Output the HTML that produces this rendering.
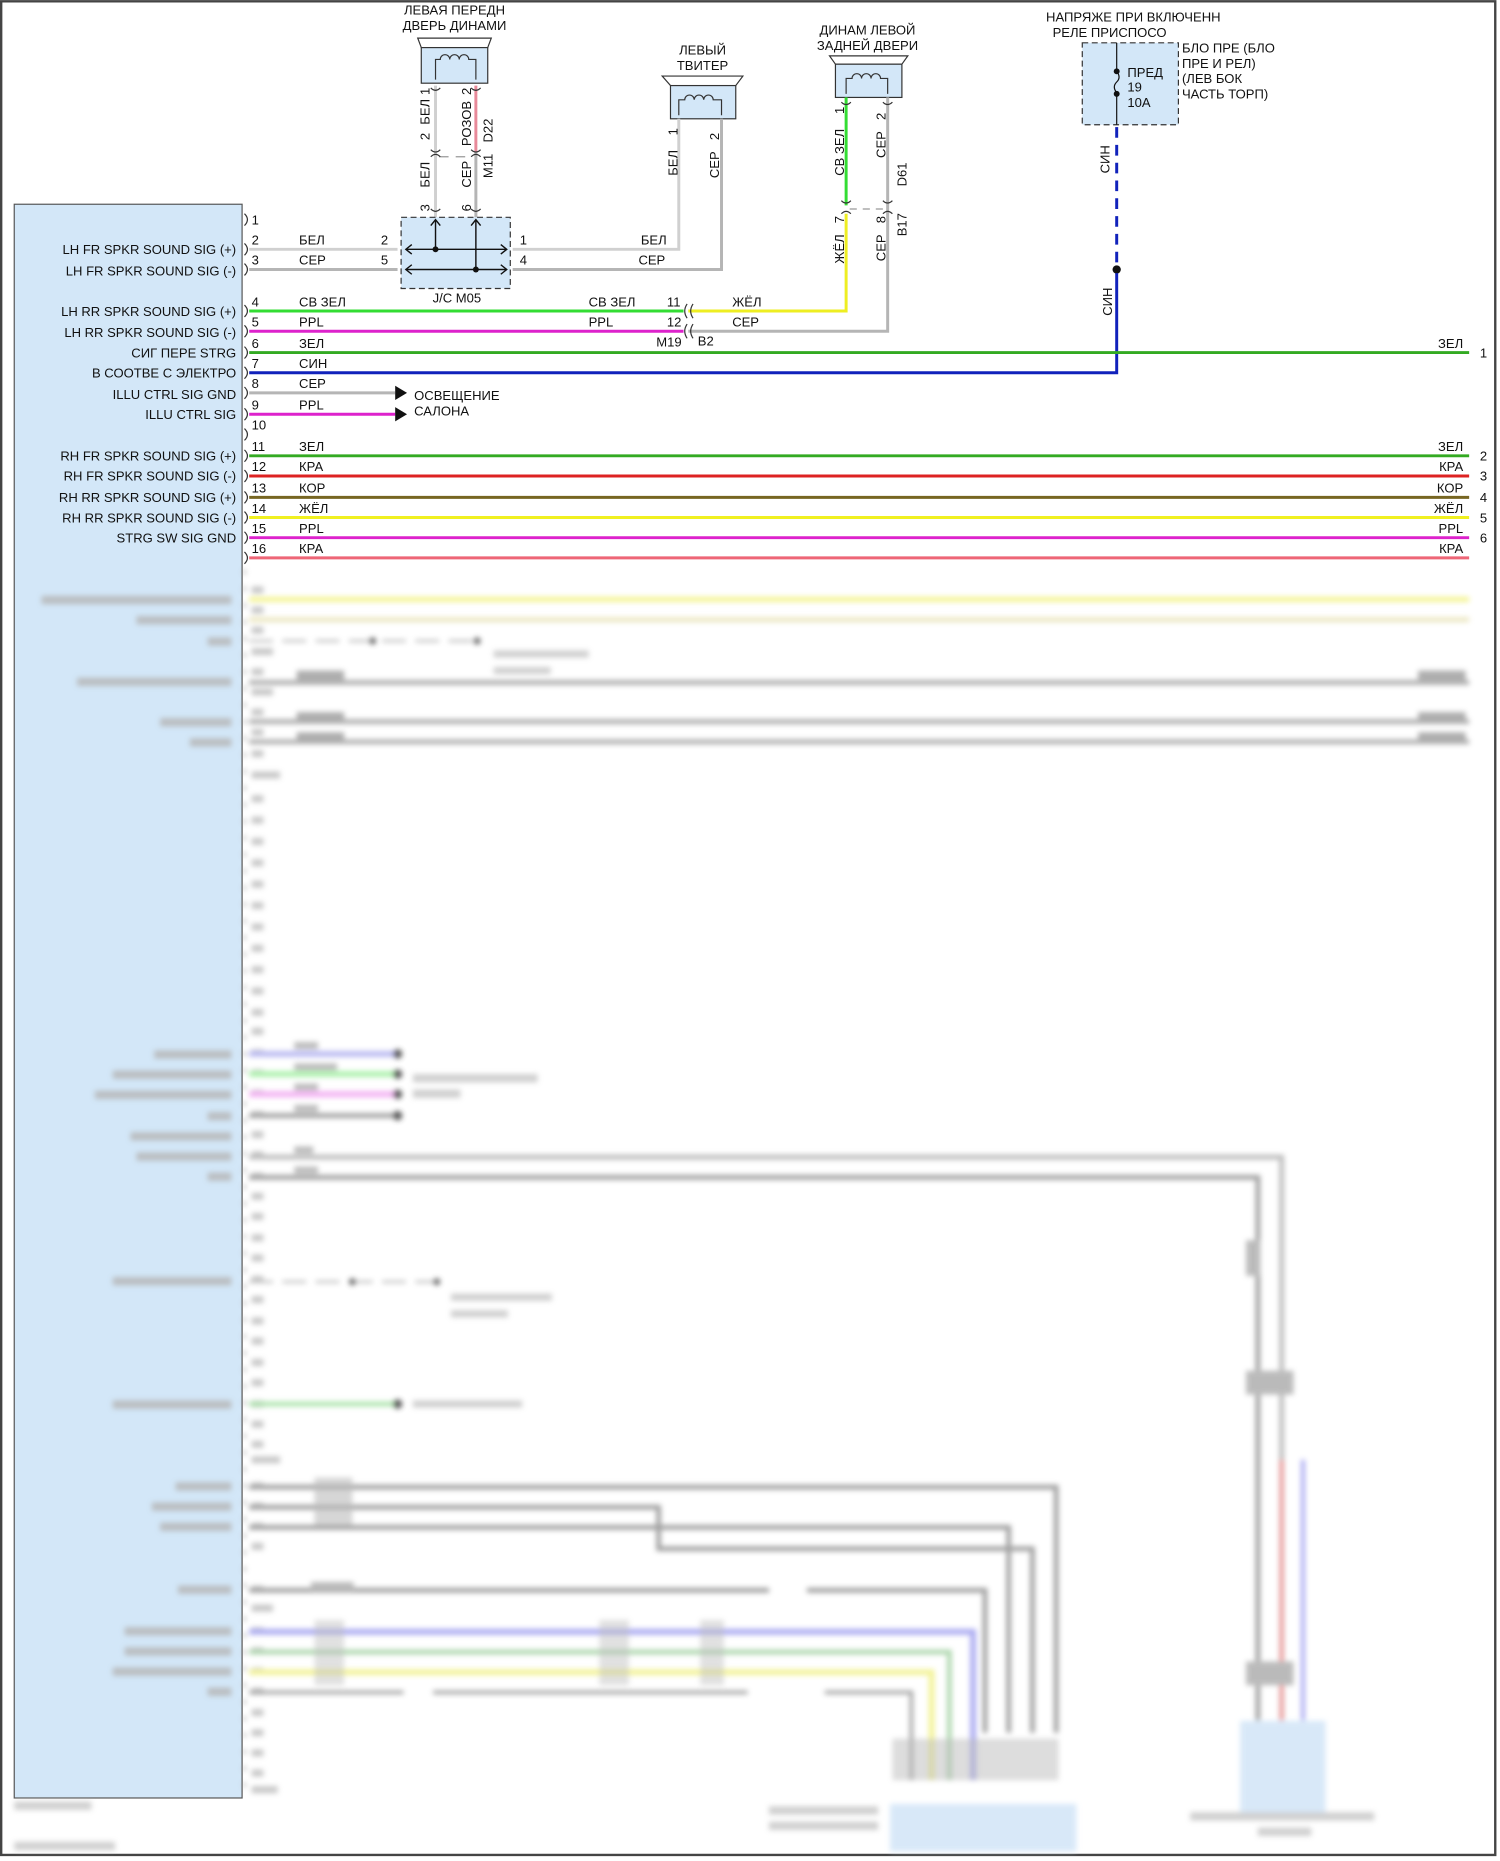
<!DOCTYPE html>
<html><head><meta charset="utf-8"><style>
html,body{margin:0;padding:0;background:#fff;}
svg{display:block;}
text{font-family:"Liberation Sans","DejaVu Sans",sans-serif;font-size:11px;fill:#111;}
</style></head><body>
<svg width="1500" height="1861" viewBox="0 0 1264 1568" xmlns="http://www.w3.org/2000/svg">
<defs>
<filter id="bl" x="-5%" y="-5%" width="110%" height="110%"><feGaussianBlur stdDeviation="2.2"/></filter>
</defs>
<rect x="0" y="0" width="1264" height="1568" fill="#fff"/>
<rect x="1" y="1" width="1259" height="1562" fill="none" stroke="#444" stroke-width="2"/>

<rect x="12" y="172" width="192" height="1343" fill="#d3e7f8" stroke="#555" stroke-width="1"/>

<g fill="none" stroke="#333" stroke-width="1">
<polygon points="352,32 414,32 411,40 355,40" fill="#fff"/>
<rect x="355" y="40" width="56" height="30" fill="#d3e7f8"/>
<path d="M367,67 V50 h4 a4,4 0 0 1 8,0 a4,4 0 0 1 8,0 a4,4 0 0 1 8,0 h6 V67"/>
<polygon points="558,64 626,64 620,72 565,72" fill="#fff"/>
<rect x="565" y="72" width="55" height="28" fill="#d3e7f8"/>
<path d="M572,97 V84 h5 a4,4 0 0 1 8,0 a4,4 0 0 1 8,0 a4,4 0 0 1 8,0 h7 V97"/>
<polygon points="699,47 765,47 760,54 704,54" fill="#fff"/>
<rect x="704" y="54" width="56" height="28" fill="#d3e7f8"/>
<path d="M713,79 V66 h5 a4,4 0 0 1 8,0 a4,4 0 0 1 8,0 a4,4 0 0 1 8,0 h6 V79"/>
</g>
<text x="383" y="12" text-anchor="middle">ЛЕВАЯ ПЕРЕДН</text>
<text x="383" y="25" text-anchor="middle">ДВЕРЬ ДИНАМИ</text>
<text x="592" y="46" text-anchor="middle">ЛЕВЫЙ</text>
<text x="592" y="59" text-anchor="middle">ТВИТЕР</text>
<text x="731" y="29" text-anchor="middle">ДИНАМ ЛЕВОЙ</text>
<text x="731" y="42" text-anchor="middle">ЗАДНЕЙ ДВЕРИ</text>

<line x1="367" y1="72" x2="367" y2="183" stroke="#d0d0d0" stroke-width="2.5"/>
<line x1="401" y1="72" x2="401" y2="128" stroke="#e88a9a" stroke-width="2.5"/>
<line x1="401" y1="128" x2="401" y2="183" stroke="#b5b5b5" stroke-width="2.5"/>
<line x1="370" y1="132" x2="398" y2="132" stroke="#999" stroke-dasharray="8,6"/>
<g fill="none" stroke="#333">
<path d="M363,74 q4,4 8,0 M397,74 q4,4 8,0 M363,126 q4,4 8,0 M397,126 q4,4 8,0 M363,132 q4,-4 8,0 M397,132 q4,-4 8,0 M363,176 q4,4 8,0 M397,176 q4,4 8,0"/>
</g>
<g font-size="10">
<text transform="translate(362,105) rotate(-90)">БЕЛ</text>
<text transform="translate(362,80) rotate(-90)">1</text>
<text transform="translate(362,118) rotate(-90)">2</text>
<text transform="translate(362,158) rotate(-90)">БЕЛ</text>
<text transform="translate(362,178) rotate(-90)">3</text>
<text transform="translate(397,80) rotate(-90)">2</text>
<text transform="translate(397,123) rotate(-90)">РОЗОВ</text>
<text transform="translate(415,120) rotate(-90)">D22</text>
<text transform="translate(397,158) rotate(-90)">СЕР</text>
<text transform="translate(415,150) rotate(-90)">M11</text>
<text transform="translate(397,178) rotate(-90)">6</text>
</g>

<rect x="338" y="183" width="92" height="60" fill="#d3e7f8" stroke="#333" stroke-dasharray="5,3"/>
<g stroke="#111" stroke-width="1.2" fill="none">
<line x1="342" y1="210" x2="427" y2="210"/><line x1="342" y1="227" x2="427" y2="227"/>
<line x1="367" y1="186" x2="367" y2="210"/><line x1="401" y1="186" x2="401" y2="227"/>
<path d="M347,206 l-5,4 5,4 M422,206 l5,4 -5,4 M347,223 l-5,4 5,4 M422,223 l5,4 -5,4 M363,190 l4,-5 4,5 M397,190 l4,-5 4,5"/>
</g>
<circle cx="367" cy="210" r="2.5" fill="#111"/><circle cx="401" cy="227" r="2.5" fill="#111"/>
<text x="385" y="255" text-anchor="middle">J/C M05</text>
<text x="321" y="206">2</text><text x="321" y="223">5</text>
<text x="438" y="206">1</text><text x="438" y="223">4</text>

<polyline points="432,210 572,210 572,100" fill="none" stroke="#d0d0d0" stroke-width="2.5"/>
<polyline points="432,227 608,227 608,100" fill="none" stroke="#b5b5b5" stroke-width="2.5"/>
<text transform="translate(571,148) rotate(-90)" font-size="10">БЕЛ</text>
<text transform="translate(571,114) rotate(-90)" font-size="10">1</text>
<text transform="translate(606,150) rotate(-90)" font-size="10">СЕР</text>
<text transform="translate(606,118) rotate(-90)" font-size="10">2</text>
<text x="540" y="206">БЕЛ</text><text x="538" y="223">СЕР</text>

<line x1="713" y1="82" x2="713" y2="173" stroke="#33dd33" stroke-width="2.5"/>
<polyline points="713,180 713,262 580,262" fill="none" stroke="#eeee22" stroke-width="2.5"/>
<polyline points="748,82 748,279 580,279" fill="none" stroke="#b5b5b5" stroke-width="2.5"/>
<line x1="716" y1="176" x2="745" y2="176" stroke="#999" stroke-dasharray="6,5"/>
<g fill="none" stroke="#333"><path d="M709,86 q4,4 8,0 M744,86 q4,4 8,0 M709,169 q4,4 8,0 M744,169 q4,4 8,0 M709,180 q4,-4 8,0 M744,180 q4,-4 8,0"/></g>
<g font-size="10">
<text transform="translate(711,96) rotate(-90)">1</text>
<text transform="translate(711,148) rotate(-90)">СВ ЗЕЛ</text>
<text transform="translate(746,101) rotate(-90)">2</text>
<text transform="translate(746,133) rotate(-90)">СЕР</text>
<text transform="translate(764,157) rotate(-90)">D61</text>
<text transform="translate(711,188) rotate(-90)">7</text>
<text transform="translate(711,222) rotate(-90)">ЖЁЛ</text>
<text transform="translate(746,188) rotate(-90)">8</text>
<text transform="translate(746,220) rotate(-90)">СЕР</text>
<text transform="translate(764,199) rotate(-90)">B17</text>
</g>
<text x="617" y="258">ЖЁЛ</text><text x="617" y="275">СЕР</text>
<text x="562" y="258">11</text><text x="562" y="275">12</text>
<text x="553" y="292">M19</text><text x="588" y="291">B2</text>
<g fill="none" stroke="#333"><path d="M579,256 q-4,6 0,12 M584,256 q-4,6 0,12 M579,273 q-4,6 0,12 M584,273 q-4,6 0,12"/></g>

<text x="955" y="18" text-anchor="middle">НАПРЯЖЕ ПРИ ВКЛЮЧЕНН</text>
<text x="935" y="31" text-anchor="middle">РЕЛЕ ПРИСПОСО</text>
<rect x="912" y="36" width="81" height="69" fill="#d3e7f8" stroke="#333" stroke-dasharray="5,3"/>
<line x1="941" y1="36" x2="941" y2="58" stroke="#111"/><line x1="941" y1="79" x2="941" y2="105" stroke="#111"/>
<path d="M941,60 q4,5 0,9 q-4,4 0,9" fill="none" stroke="#111"/>
<circle cx="941" cy="60" r="2.5" fill="#111"/><circle cx="941" cy="79" r="2.5" fill="#111"/>
<text x="950" y="65">ПРЕД</text><text x="950" y="77">19</text><text x="950" y="90">10A</text>
<text x="996" y="44">БЛО ПРЕ (БЛО</text><text x="996" y="57">ПРЕ И РЕЛ)</text><text x="996" y="70">(ЛЕВ БОК</text><text x="996" y="83">ЧАСТЬ ТОРП)</text>
<line x1="941" y1="107" x2="941" y2="225" stroke="#1122bb" stroke-width="2.5" stroke-dasharray="9,6"/>
<circle cx="941" cy="227" r="3.5" fill="#111"/>
<polyline points="941,230 941,314 210,314" fill="none" stroke="#1122bb" stroke-width="2.5"/>
<text transform="translate(935,146) rotate(-90)" font-size="10">СИН</text>
<text transform="translate(937,266) rotate(-90)" font-size="10">СИН</text>

<line x1="210" y1="210" x2="335" y2="210" stroke="#d0d0d0" stroke-width="2.5"/>
<line x1="210" y1="227" x2="335" y2="227" stroke="#b5b5b5" stroke-width="2.5"/>
<line x1="210" y1="262" x2="576" y2="262" stroke="#33dd33" stroke-width="2.5"/>
<line x1="210" y1="279" x2="576" y2="279" stroke="#dd22cc" stroke-width="2.5"/>
<line x1="210" y1="297" x2="1238" y2="297" stroke="#33aa22" stroke-width="2.5"/>
<line x1="210" y1="331" x2="333" y2="331" stroke="#b5b5b5" stroke-width="2.5"/>
<line x1="210" y1="349" x2="333" y2="349" stroke="#dd22cc" stroke-width="2.5"/>
<polygon points="333,325 343,331 333,337" fill="#111"/><polygon points="333,343 343,349 333,355" fill="#111"/>
<text x="349" y="337">ОСВЕЩЕНИЕ</text><text x="349" y="350">САЛОНА</text>
<line x1="210" y1="384" x2="1238" y2="384" stroke="#33aa22" stroke-width="2.5"/>
<line x1="210" y1="401" x2="1238" y2="401" stroke="#dd2222" stroke-width="2.5"/>
<line x1="210" y1="419" x2="1238" y2="419" stroke="#776622" stroke-width="2.5"/>
<line x1="210" y1="436" x2="1238" y2="436" stroke="#f0f020" stroke-width="2.5"/>
<line x1="210" y1="453" x2="1238" y2="453" stroke="#dd22cc" stroke-width="2.5"/>
<line x1="210" y1="470" x2="1238" y2="470" stroke="#ee6677" stroke-width="2.5"/>

<g fill="none" stroke="#333">
<path d="M206,180 q5,5 0,10 M206,205 q5,5 0,10 M206,222 q5,5 0,10 M206,257 q5,5 0,10 M206,274 q5,5 0,10 M206,292 q5,5 0,10 M206,309 q5,5 0,10 M206,326 q5,5 0,10 M206,344 q5,5 0,10 M206,361 q5,5 0,10 M206,379 q5,5 0,10 M206,396 q5,5 0,10 M206,414 q5,5 0,10 M206,431 q5,5 0,10 M206,448 q5,5 0,10 M206,465 q5,5 0,10"/>
</g>
<g font-size="10">
<text x="212" y="189">1</text><text x="212" y="206">2</text><text x="212" y="223">3</text><text x="212" y="258">4</text><text x="212" y="275">5</text><text x="212" y="293">6</text><text x="212" y="310">7</text><text x="212" y="327">8</text><text x="212" y="345">9</text><text x="212" y="362">10</text><text x="212" y="380">11</text><text x="212" y="397">12</text><text x="212" y="415">13</text><text x="212" y="432">14</text><text x="212" y="449">15</text><text x="212" y="466">16</text>
</g>
<g>
<text x="252" y="206">БЕЛ</text><text x="252" y="223">СЕР</text><text x="252" y="258">СВ ЗЕЛ</text><text x="496" y="258">СВ ЗЕЛ</text>
<text x="252" y="275">PPL</text><text x="496" y="275">PPL</text><text x="252" y="293">ЗЕЛ</text><text x="252" y="310">СИН</text>
<text x="252" y="327">СЕР</text><text x="252" y="345">PPL</text><text x="252" y="380">ЗЕЛ</text><text x="252" y="397">КРА</text>
<text x="252" y="415">КОР</text><text x="252" y="432">ЖЁЛ</text><text x="252" y="449">PPL</text><text x="252" y="466">КРА</text>
</g>
<g text-anchor="end">
<text x="1233" y="293">ЗЕЛ</text><text x="1233" y="380">ЗЕЛ</text><text x="1233" y="397">КРА</text><text x="1233" y="415">КОР</text><text x="1233" y="432">ЖЁЛ</text><text x="1233" y="449">PPL</text><text x="1233" y="466">КРА</text>
</g>
<g font-size="10"><text x="1247" y="301">1</text><text x="1247" y="388">2</text><text x="1247" y="405">3</text><text x="1247" y="423">4</text><text x="1247" y="440">5</text><text x="1247" y="457">6</text></g>
<g text-anchor="end">
<text x="199" y="214">LH FR SPKR SOUND SIG (+)</text>
<text x="199" y="232">LH FR SPKR SOUND SIG (-)</text>
<text x="199" y="266">LH RR SPKR SOUND SIG (+)</text>
<text x="199" y="284">LH RR SPKR SOUND SIG (-)</text>
<text x="199" y="301">СИГ ПЕРЕ STRG</text>
<text x="199" y="318">В СООТВЕ С ЭЛЕКТРО</text>
<text x="199" y="336">ILLU CTRL SIG GND</text>
<text x="199" y="353">ILLU CTRL SIG</text>
<text x="199" y="388">RH FR SPKR SOUND SIG (+)</text>
<text x="199" y="405">RH FR SPKR SOUND SIG (-)</text>
<text x="199" y="423">RH RR SPKR SOUND SIG (+)</text>
<text x="199" y="440">RH RR SPKR SOUND SIG (-)</text>
<text x="199" y="457">STRG SW SIG GND</text>
</g>

<g filter="url(#bl)" opacity="0.8">
<line x1="206" y1="480" x2="206" y2="1510" stroke="#999" stroke-width="2" stroke-dasharray="4,10"/>
<g fill="#bbb">
<rect x="212" y="494" width="10" height="6"/><rect x="212" y="511" width="10" height="6"/><rect x="212" y="528" width="10" height="6"/><rect x="212" y="546" width="18" height="6"/>
<rect x="212" y="563" width="10" height="6"/><rect x="212" y="580" width="18" height="6"/><rect x="212" y="597" width="10" height="6"/><rect x="212" y="614" width="10" height="6"/>
<rect x="212" y="632" width="10" height="6"/><rect x="212" y="650" width="24" height="6"/>
<rect x="212" y="670" width="10" height="6"/><rect x="212" y="688" width="10" height="6"/><rect x="212" y="706" width="10" height="6"/><rect x="212" y="724" width="10" height="6"/><rect x="212" y="742" width="10" height="6"/><rect x="212" y="760" width="10" height="6"/><rect x="212" y="778" width="10" height="6"/><rect x="212" y="796" width="10" height="6"/><rect x="212" y="814" width="10" height="6"/><rect x="212" y="832" width="10" height="6"/><rect x="212" y="850" width="10" height="6"/><rect x="212" y="866" width="10" height="6"/>
<rect x="212" y="884" width="10" height="6"/><rect x="212" y="901" width="10" height="6"/><rect x="212" y="918" width="10" height="6"/><rect x="212" y="936" width="10" height="6"/><rect x="212" y="953" width="10" height="6"/><rect x="212" y="970" width="10" height="6"/><rect x="212" y="988" width="10" height="6"/>
<rect x="212" y="1005" width="10" height="6"/><rect x="212" y="1022" width="10" height="6"/><rect x="212" y="1040" width="10" height="6"/><rect x="212" y="1057" width="10" height="6"/><rect x="212" y="1075" width="10" height="6"/><rect x="212" y="1092" width="10" height="6"/><rect x="212" y="1110" width="10" height="6"/><rect x="212" y="1127" width="10" height="6"/><rect x="212" y="1145" width="10" height="6"/><rect x="212" y="1162" width="10" height="6"/><rect x="212" y="1180" width="10" height="6"/><rect x="212" y="1197" width="10" height="6"/><rect x="212" y="1214" width="10" height="6"/><rect x="212" y="1227" width="24" height="6"/>
<rect x="212" y="1249" width="10" height="6"/><rect x="212" y="1266" width="10" height="6"/><rect x="212" y="1283" width="10" height="6"/><rect x="212" y="1300" width="10" height="6"/><rect x="212" y="1336" width="10" height="6"/><rect x="212" y="1352" width="18" height="6"/>
<rect x="212" y="1371" width="10" height="6"/><rect x="212" y="1388" width="10" height="6"/><rect x="212" y="1405" width="10" height="6"/><rect x="212" y="1422" width="10" height="6"/><rect x="212" y="1440" width="10" height="6"/><rect x="212" y="1457" width="10" height="6"/><rect x="212" y="1474" width="10" height="6"/><rect x="212" y="1491" width="10" height="6"/><rect x="212" y="1505" width="22" height="6"/>
</g>
<line x1="210" y1="505" x2="1238" y2="505" stroke="#f0f070" stroke-width="4"/>
<line x1="210" y1="522" x2="1238" y2="522" stroke="#e6e0b0" stroke-width="4"/>
<line x1="210" y1="540" x2="400" y2="540" stroke="#aaa" stroke-width="2" stroke-dasharray="20,8"/>
<circle cx="314" cy="540" r="3" fill="#444"/><circle cx="402" cy="540" r="3" fill="#444"/>
<rect x="416" y="548" width="80" height="6" fill="#c4c4c4"/><rect x="416" y="562" width="48" height="6" fill="#c4c4c4"/>
<line x1="210" y1="575" x2="1238" y2="575" stroke="#999" stroke-width="4"/>
<line x1="210" y1="608" x2="1238" y2="608" stroke="#999" stroke-width="4"/>
<line x1="210" y1="625" x2="1238" y2="625" stroke="#999" stroke-width="4"/>
<rect x="250" y="565" width="40" height="8" fill="#999"/><rect x="250" y="600" width="40" height="8" fill="#999"/><rect x="250" y="617" width="40" height="8" fill="#999"/>
<rect x="1195" y="565" width="40" height="8" fill="#999"/><rect x="1195" y="600" width="40" height="8" fill="#999"/><rect x="1195" y="617" width="40" height="8" fill="#999"/>
<line x1="210" y1="888" x2="335" y2="888" stroke="#aaaaee" stroke-width="5"/>
<line x1="210" y1="905" x2="335" y2="905" stroke="#99ee99" stroke-width="5"/>
<line x1="210" y1="922" x2="335" y2="922" stroke="#f0a0f0" stroke-width="5"/>
<line x1="210" y1="940" x2="335" y2="940" stroke="#888" stroke-width="4"/>
<circle cx="335" cy="888" r="4" fill="#333"/><circle cx="335" cy="905" r="4" fill="#333"/><circle cx="335" cy="922" r="4" fill="#333"/><circle cx="335" cy="940" r="4" fill="#333"/>
<rect x="248" y="878" width="20" height="6" fill="#aaa"/><rect x="248" y="896" width="36" height="6" fill="#aaa"/><rect x="248" y="913" width="20" height="6" fill="#aaa"/><rect x="248" y="931" width="20" height="6" fill="#aaa"/><rect x="248" y="966" width="16" height="6" fill="#aaa"/><rect x="248" y="983" width="20" height="6" fill="#aaa"/>
<rect x="348" y="905" width="105" height="7" fill="#c4c4c4"/><rect x="348" y="918" width="40" height="7" fill="#c4c4c4"/>
<polyline points="210,975 1080,975 1080,1450" fill="none" stroke="#aaa" stroke-width="4"/>
<polyline points="210,992 1060,992 1060,1450" fill="none" stroke="#888" stroke-width="4"/>
<line x1="210" y1="1080" x2="370" y2="1080" stroke="#aaa" stroke-width="2" stroke-dasharray="20,8"/>
<circle cx="297" cy="1080" r="3" fill="#444"/><circle cx="368" cy="1080" r="3" fill="#444"/>
<rect x="380" y="1090" width="85" height="6" fill="#c4c4c4"/><rect x="380" y="1104" width="48" height="6" fill="#c4c4c4"/>
<line x1="210" y1="1183" x2="335" y2="1183" stroke="#99dd99" stroke-width="4"/><circle cx="335" cy="1183" r="4" fill="#333"/>
<rect x="348" y="1180" width="92" height="6" fill="#c4c4c4"/>
<polyline points="210,1253 890,1253 890,1460" fill="none" stroke="#888" stroke-width="4"/>
<polyline points="210,1270 555,1270 555,1305 870,1305 870,1460" fill="none" stroke="#888" stroke-width="4"/>
<polyline points="210,1287 850,1287 850,1460" fill="none" stroke="#888" stroke-width="4"/>
<polyline points="210,1340 648,1340" fill="none" stroke="#888" stroke-width="4"/>
<polyline points="680,1340 830,1340 830,1460" fill="none" stroke="#888" stroke-width="4"/>
<polyline points="210,1375 820,1375 820,1500" fill="none" stroke="#9999ee" stroke-width="5"/>
<polyline points="210,1392 800,1392 800,1500" fill="none" stroke="#99cc99" stroke-width="4"/>
<polyline points="210,1409 785,1409 785,1500" fill="none" stroke="#f0f080" stroke-width="5"/>
<polyline points="210,1426 340,1426" fill="none" stroke="#888" stroke-width="3"/>
<polyline points="365,1426 630,1426" fill="none" stroke="#888" stroke-width="3"/>
<polyline points="695,1426 768,1426 768,1500" fill="none" stroke="#888" stroke-width="3"/>
<rect x="265" y="1245" width="32" height="40" fill="#aaa" opacity="0.6"/><rect x="262" y="1333" width="36" height="7" fill="#aaa"/>
<rect x="265" y="1365" width="25" height="55" fill="#aaa" opacity="0.45"/>
<rect x="505" y="1365" width="25" height="55" fill="#aaa" opacity="0.45"/>
<rect x="590" y="1365" width="20" height="55" fill="#aaa" opacity="0.45"/>
<rect x="752" y="1465" width="140" height="35" fill="#aaa" opacity="0.5"/>
<rect x="750" y="1520" width="157" height="40" fill="#cfe3f7"/>
<rect x="648" y="1522" width="92" height="7" fill="#c4c4c4"/><rect x="648" y="1535" width="92" height="7" fill="#c4c4c4"/>
<line x1="1080" y1="1230" x2="1080" y2="1450" stroke="#ee7777" stroke-width="3"/>
<line x1="1098" y1="1230" x2="1098" y2="1450" stroke="#8888ee" stroke-width="3"/>
<rect x="1050" y="1045" width="12" height="30" fill="#aaa"/><rect x="1050" y="1155" width="40" height="20" fill="#aaa"/><rect x="1050" y="1400" width="40" height="20" fill="#aaa"/>
<rect x="1045" y="1450" width="72" height="80" fill="#cfe3f7"/>
<rect x="1003" y="1527" width="155" height="7" fill="#c4c4c4"/><rect x="1060" y="1540" width="45" height="7" fill="#c4c4c4"/>
<rect x="12" y="1518" width="65" height="7" fill="#c4c4c4"/><rect x="12" y="1552" width="85" height="7" fill="#c4c4c4"/>
<g fill="#b4b4b4">
<rect x="35" y="502" width="160" height="7"/><rect x="115" y="519" width="80" height="7"/><rect x="175" y="537" width="20" height="7"/>
<rect x="65" y="571" width="130" height="7"/><rect x="135" y="605" width="60" height="7"/><rect x="160" y="622" width="35" height="7"/>
<rect x="130" y="885" width="65" height="7"/><rect x="95" y="902" width="100" height="7"/><rect x="80" y="919" width="115" height="7"/><rect x="175" y="937" width="20" height="7"/>
<rect x="110" y="954" width="85" height="7"/><rect x="115" y="971" width="80" height="7"/><rect x="175" y="988" width="20" height="7"/>
<rect x="95" y="1076" width="100" height="7"/><rect x="95" y="1180" width="100" height="7"/>
<rect x="148" y="1249" width="47" height="7"/><rect x="128" y="1266" width="67" height="7"/><rect x="135" y="1283" width="60" height="7"/>
<rect x="150" y="1336" width="45" height="7"/><rect x="105" y="1371" width="90" height="7"/><rect x="105" y="1388" width="90" height="7"/><rect x="95" y="1405" width="100" height="7"/><rect x="175" y="1422" width="20" height="7"/>
</g>
</g>
</svg>
</body></html>
